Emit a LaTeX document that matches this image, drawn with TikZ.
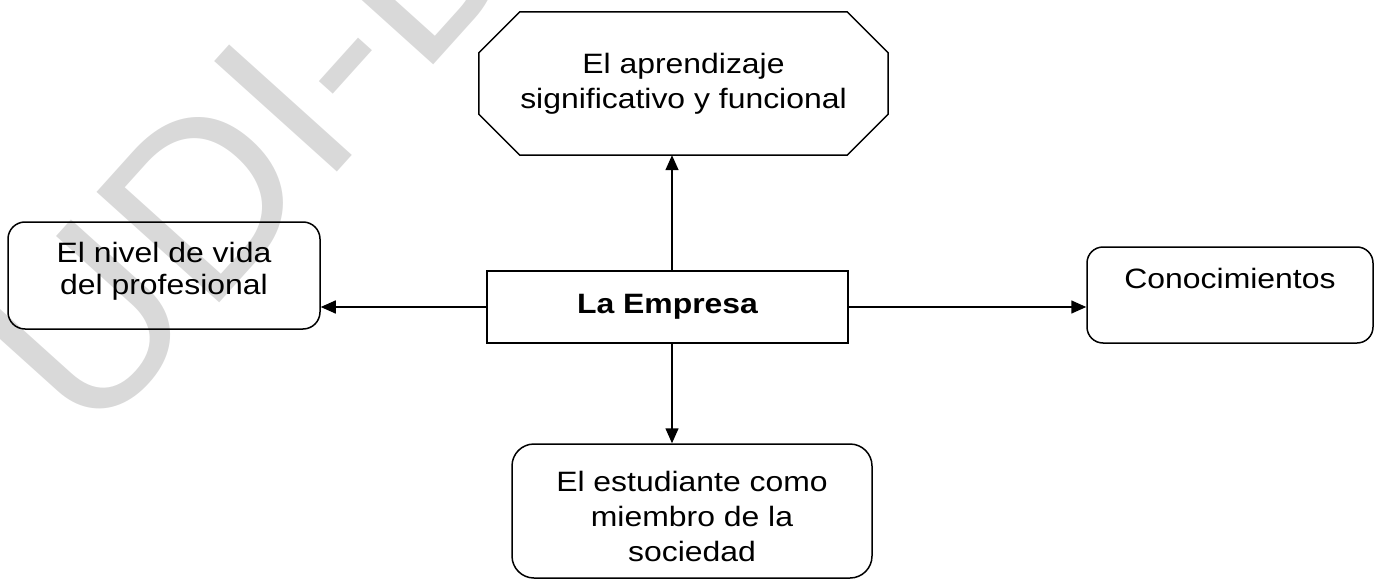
\documentclass[tikz,border=0pt]{standalone}
\usepackage{fontspec}
\setmainfont{Liberation Sans}[FakeStretch=1.14]
\newfontfamily\marcafont{Liberation Sans}
\usetikzlibrary{positioning,arrows.meta}
\tikzset{
  caja/.style={draw, line width=1.5pt, inner sep=0pt},
  redonda/.style={draw, line width=1.5pt, inner sep=0pt, rounded corners=#1},
  texto/.style={inner sep=0pt, align=center, font=\fontsize{28}{35}\selectfont},
  flecha/.style={line width=1.5pt, -{Triangle[length=15pt,width=13pt]}},
}
\begin{document}
\begin{tikzpicture}[x=1pt,y=-1pt]
	\clip (0,0) rectangle (1375,583);
	% marca de agua
	\node[rotate=48, anchor=base west, inner sep=0pt, text=black!15, font=\marcafont\fontsize{240}{240}\selectfont] (marca) at (90,446) {UDI-D};
	% octagono
	\node[minimum width=409pt, minimum height=143pt] (apr) at (683.5,83.5) {};
	\draw[line width=1.5pt] ([xshift=41pt]apr.north west) -- ([xshift=-41pt]apr.north east) -- ([yshift=-41pt]apr.north east) -- ([yshift=41pt]apr.south east) -- ([xshift=-41pt]apr.south east) -- ([xshift=41pt]apr.south west) -- ([yshift=41pt]apr.south west) -- ([yshift=-41pt]apr.north west) -- cycle;
	\node[texto, below=41pt of apr.north] (apr-t) {El aprendizaje\\significativo y funcional};
	% cajas
	\node[caja, minimum width=361pt, minimum height=72pt, font=\bfseries\fontsize{28}{35}\selectfont] (emp) at (667.5,307) {La Empresa};
	\node[redonda=17pt, minimum width=312pt, minimum height=107pt] (vida) at (164,275.5) {};
	\node[texto, font=\fontsize{28}{32}\selectfont, below=21pt of vida.north] (vida-t) {El nivel de vida\\del profesional};
	\node[redonda=16pt, minimum width=286pt, minimum height=96pt] (con) at (1230,295) {};
	\node[texto, below=22pt of con.north] (con-t) {Conocimientos};
	\node[redonda=22pt, minimum width=360pt, minimum height=134pt] (est) at (692,511) {};
	\node[texto, below=28pt of est.north] (est-t) {El estudiante como\\miembro de la\\sociedad};
	% flechas
	\coordinate (eje) at (672,307);
	\draw[flecha] (eje |- emp.north) -- (eje |- apr.south);
	\draw[flecha] (eje |- emp.south) -- (eje |- est.north);
	\draw[flecha] (emp.west) -- (vida.east |- emp.west);
	\draw[flecha] (emp.east) -- (con.west |- emp.east);
\end{tikzpicture}
\end{document}
